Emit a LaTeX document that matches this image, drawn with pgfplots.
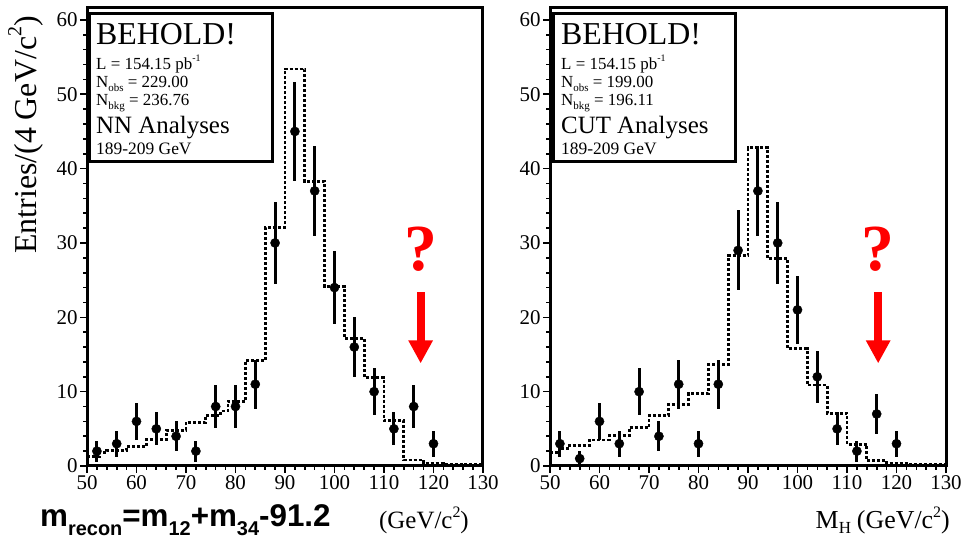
\documentclass[border=0pt]{standalone}
\usepackage{fontspec}
\setmainfont{Liberation Serif}
\newfontfamily\arialfont{Liberation Sans}
\usepackage{pgfplots}
\pgfplotsset{compat=1.18}
\usetikzlibrary{arrows.meta}

% data points (x, entries, error)
\pgfplotstableread{
x y e
52 2 1.41
56 3 1.73
60 6 2.45
64 5 2.24
68 4 2.00
72 2 1.41
76 8 2.83
80 8 2.83
84 11 3.32
88 30 5.48
92 45 6.71
96 37 6.08
100 24 4.90
104 16 4.00
108 10 3.16
112 5 2.24
116 8 2.83
120 3 1.73
}\dataL

\pgfplotstableread{
x y e
52 3 1.73
56 1 1.00
60 6 2.45
64 3 1.73
68 10 3.16
72 4 2.00
76 11 3.32
80 3 1.73
84 11 3.32
88 29 5.39
92 37 6.08
96 30 5.48
100 21 4.58
104 12 3.46
108 5 2.24
112 2 1.41
116 7 2.65
120 3 1.73
}\dataR

\pgfplotstableread{
x y
50 1.3
52.5 1.8
54 2.1
58 2.6
62 3.6
66 4.8
70 5.9
74 6.8
77 7.4
78.5 8.7
82 14.2
86 32.1
90 53.4
94 38.3
98 24.1
102 17.1
106 11.9
110 6.1
114 0.8
118 0.4
122 0.25
126 0.15
130 0.15
}\bkgL

\pgfplotstableread{
x y
50 1.8
52 2.3
54 2.8
58 3.5
62 4.1
66 5.2
70 6.8
74 8.3
78 9.7
82 13.6
86 28.3
90 42.8
94 27.9
98 15.8
102 10.9
106 7.1
110 2.9
114 0.7
118 0.35
122 0.2
130 0.2
}\bkgR

\newcommand{\sub}[1]{\raisebox{-0.5ex}{\fontsize{11}{11}\selectfont #1}}
\newcommand{\sups}[1]{\raisebox{1.0ex}{\fontsize{10}{10}\selectfont #1}}

\pgfplotsset{
  panel/.style={
    width=396bp, height=458.7bp, scale only axis,
    xmin=50, xmax=130, ymin=0, ymax=61.7,
    xtick={50,60,...,130}, ytick={0,10,...,60},
    minor x tick num=4, minor y tick num=4,
    tick align=outside, xtick pos=bottom, ytick pos=left,
    major tick length=7bp, minor tick length=4bp,
    every tick/.style={black, line width=1.6bp},
    axis line style={line width=3bp},
    tick label style={font=\fontsize{21}{21}\selectfont},
    /pgf/number format/assume math mode=true,
    xticklabel style={yshift=1bp},
    yticklabel style={xshift=1bp},
  },
  bkg/.style={const plot, black, line width=2.8bp, dash pattern=on 3bp off 2bp, no marks},
  pts/.style={only marks, mark=*, mark size=4.6bp, black,
    error bars/.cd, y dir=both, y explicit, error mark=none,
    error bar style={line width=3bp, black}},
}

\begin{document}
\begin{tikzpicture}
\useasboundingbox (0,0) rectangle (965bp,541bp);

% left panel
\begin{axis}[panel, at={(87bp,75bp)}, anchor=south west]
\addplot[bkg] table[x=x,y=y] {\bkgL};
\addplot[pts] table[x=x,y=y,y error=e] {\dataL};
\node[red, font=\bfseries\fontsize{66}{66}\selectfont, anchor=base] at (axis cs:117.4,26.3) {?};
\draw[red, line width=8bp, -{Triangle[width=23bp,length=23bp]}] (axis cs:117.4,23.4) -- (axis cs:117.4,13.8);
\end{axis}

% right panel
\begin{axis}[panel, at={(550bp,75bp)}, anchor=south west]
\addplot[bkg] table[x=x,y=y] {\bkgR};
\addplot[pts] table[x=x,y=y,y error=e] {\dataR};
\node[red, font=\bfseries\fontsize{66}{66}\selectfont, anchor=base] at (axis cs:116.3,26.3) {?};
\draw[red, line width=8bp, -{Triangle[width=23bp,length=23bp]}] (axis cs:116.3,23.4) -- (axis cs:116.3,13.8);
\end{axis}

% info boxes
\draw[line width=3bp, fill=white] (89bp,527bp) rectangle (272bp,379bp);
\node[anchor=base west, inner sep=0, font=\fontsize{32}{32}\selectfont] at (96bp,496bp) {BEHOLD!};
\node[anchor=base west, inner sep=0, font=\fontsize{17}{17}\selectfont] at (96bp,471.7bp) {L = 154.15 pb\sups{-1}};
\node[anchor=base west, inner sep=0, font=\fontsize{17}{17}\selectfont] at (96bp,453.7bp) {N\sub{obs} = 229.00};
\node[anchor=base west, inner sep=0, font=\fontsize{17}{17}\selectfont] at (96bp,435bp) {N\sub{bkg} = 236.76};
\node[anchor=base west, inner sep=0, font=\fontsize{25}{25}\selectfont] at (96bp,407.7bp) {NN Analyses};
\node[anchor=base west, inner sep=0, font=\fontsize{17.5}{17.5}\selectfont] at (96bp,386bp) {189-209 GeV};

\draw[line width=3bp, fill=white] (553bp,527bp) rectangle (735bp,379bp);
\node[anchor=base west, inner sep=0, font=\fontsize{32}{32}\selectfont] at (561bp,496bp) {BEHOLD!};
\node[anchor=base west, inner sep=0, font=\fontsize{17}{17}\selectfont] at (561bp,471.7bp) {L = 154.15 pb\sups{-1}};
\node[anchor=base west, inner sep=0, font=\fontsize{17}{17}\selectfont] at (561bp,453.7bp) {N\sub{obs} = 199.00};
\node[anchor=base west, inner sep=0, font=\fontsize{17}{17}\selectfont] at (561bp,435bp) {N\sub{bkg} = 196.11};
\node[anchor=base west, inner sep=0, font=\fontsize{25}{25}\selectfont] at (561bp,407.7bp) {CUT Analyses};
\node[anchor=base west, inner sep=0, font=\fontsize{17.5}{17.5}\selectfont] at (561bp,386bp) {189-209 GeV};

% y label
\node[rotate=90, anchor=base, inner sep=0, font=\fontsize{32}{32}\selectfont] at (36bp,406bp) {Entries/(4 GeV/c\raisebox{1.0ex}{\fontsize{20}{20}\selectfont 2})};

% x labels
\node[anchor=base west, inner sep=0] at (40bp,15bp) {\arialfont\bfseries\fontsize{31.5}{31.5}\selectfont m\raisebox{-0.3em}{\fontsize{20}{20}\selectfont recon}=m\raisebox{-0.3em}{\fontsize{20}{20}\selectfont 12}+m\raisebox{-0.3em}{\fontsize{20}{20}\selectfont 34}-91.2};
\node[anchor=base west, inner sep=0, font=\fontsize{25}{25}\selectfont] at (379bp,13bp) {(GeV/c\raisebox{0.9ex}{\fontsize{16}{16}\selectfont 2})};
\node[anchor=base east, inner sep=0, font=\fontsize{26}{26}\selectfont] at (950bp,13bp) {M\raisebox{-0.5ex}{\fontsize{17}{17}\selectfont H}\hspace{6bp}(GeV/c\raisebox{0.9ex}{\fontsize{16}{16}\selectfont 2})};
\end{tikzpicture}
\end{document}
